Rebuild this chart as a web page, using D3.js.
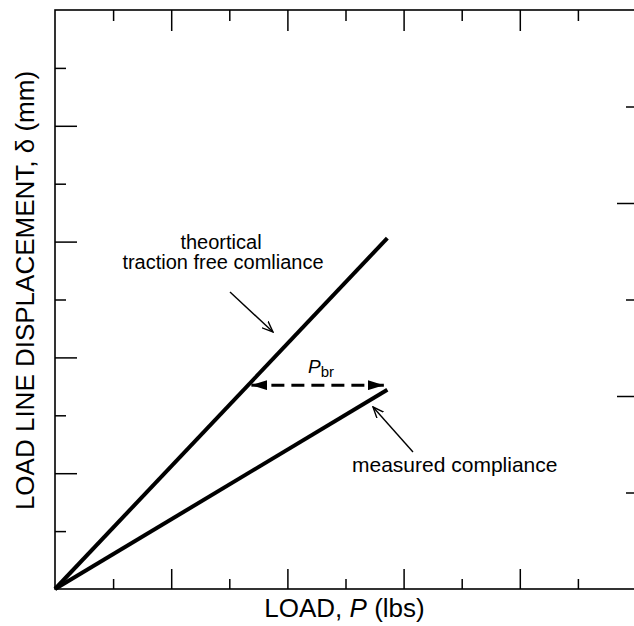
<!DOCTYPE html>
<html>
<head>
<meta charset="utf-8">
<script src="https://cdn.jsdelivr.net/npm/d3@7"></script>
<style>
  body { margin: 0; background: #fff; }
  svg { display: block; }
  text { font-family: "Liberation Sans", Arial, sans-serif; fill: #000; }
</style>
</head>
<body>
<div id="chart"></div>
<script>
// chart values
var loadX = [0, 5.72];
var theoryY = [0, 6.06];
var measuredY = [0, 3.44];
var pbrY = 3.52;
var pbrFrom = 3.38;
var pbrTo = 5.66;
var xMajor = [2, 4, 6, 8];
var xMinor = [1, 3, 5, 7, 9];
var yMajor = [2, 4, 6, 8];
var yMinor = [1, 3, 5, 7, 9];
var rMajor = [2, 4];
var rMinor = [1, 3, 5];

var svgWidth = 634;
var svgHeight = 626;
// right frame edge sits just past the window edge
var margin = { top: 10, right: -2, bottom: 37, left: 55 };
var width = svgWidth - margin.left - margin.right;
var height = svgHeight - margin.top - margin.bottom;

var svg = d3.select("#chart")
  .append("svg")
  .attr("width", svgWidth)
  .attr("height", svgHeight);

var defs = svg.append("defs");
defs.append("marker")
  .attr("id", "solid")
  .attr("viewBox", "0 0 16 10")
  .attr("refX", 16).attr("refY", 5)
  .attr("markerWidth", 16).attr("markerHeight", 10)
  .attr("markerUnits", "userSpaceOnUse")
  .attr("orient", "auto-start-reverse")
  .append("path").attr("d", "M0,0L16,5L0,10Z").attr("fill", "#000");
defs.append("marker")
  .attr("id", "open")
  .attr("viewBox", "0 0 12 10")
  .attr("refX", 11).attr("refY", 5)
  .attr("markerWidth", 12).attr("markerHeight", 10)
  .attr("markerUnits", "userSpaceOnUse")
  .attr("orient", "auto")
  .append("path").attr("d", "M0,0.5L11,5L0,9.5")
  .attr("fill", "none").attr("stroke", "#000").attr("stroke-width", 1.4);

var chartGroup = svg.append("g")
  .attr("transform", `translate(${margin.left}, ${margin.top})`);

var x = d3.scaleLinear().domain([0, 10]).range([0, width]);
var y = d3.scaleLinear().domain([0, 10]).range([height, 0]);
var yRight = d3.scaleLinear().domain([0, 6]).range([height, 0]);

// frame + ticks (inward)
function addAxis(axis, transform) {
  var g = chartGroup.append("g")
    .attr("transform", transform)
    .call(axis.tickFormat(""));
  g.select(".domain").remove();
  g.selectAll("line").attr("stroke", "#000").attr("stroke-width", 1.5);
}
addAxis(d3.axisBottom(x).tickValues(xMinor).tickSizeInner(-10).tickSizeOuter(0), `translate(0,${height})`);
addAxis(d3.axisBottom(x).tickValues(xMajor).tickSizeInner(-20).tickSizeOuter(0), `translate(0,${height})`);
addAxis(d3.axisTop(x).tickValues(xMinor).tickSizeInner(-11).tickSizeOuter(0), "translate(0,0)");
addAxis(d3.axisTop(x).tickValues(xMajor).tickSizeInner(-21).tickSizeOuter(0), "translate(0,0)");
addAxis(d3.axisLeft(y).tickValues(yMinor).tickSizeInner(-11).tickSizeOuter(0), "translate(0,0)");
addAxis(d3.axisLeft(y).tickValues(yMajor).tickSizeInner(-22).tickSizeOuter(0), "translate(0,0)");
addAxis(d3.axisRight(yRight).tickValues(rMinor).tickSizeInner(-10).tickSizeOuter(0), `translate(${width},0)`);
addAxis(d3.axisRight(yRight).tickValues(rMajor).tickSizeInner(-19).tickSizeOuter(0), `translate(${width},0)`);

chartGroup.append("rect")
  .attr("x", 0).attr("y", 0)
  .attr("width", width).attr("height", height)
  .attr("fill", "none")
  .attr("stroke", "#000")
  .attr("stroke-width", 1.6);

// lines
var line = d3.line().x(d => x(d[0])).y(d => y(d[1]));
[theoryY, measuredY].forEach(function(series) {
  chartGroup.append("path")
    .datum(loadX.map((v, i) => [v, series[i]]))
    .attr("d", line)
    .attr("fill", "none")
    .attr("stroke", "#000")
    .attr("stroke-width", 4)
    .attr("stroke-linecap", "butt");
});

// P_br dashed double arrow
chartGroup.append("line")
  .attr("x1", x(pbrFrom)).attr("x2", x(pbrTo))
  .attr("y1", y(pbrY)).attr("y2", y(pbrY))
  .attr("stroke", "#000")
  .attr("stroke-width", 3)
  .attr("stroke-dasharray", "13,7")
  .attr("marker-start", "url(#solid)")
  .attr("marker-end", "url(#solid)");

var pbr = chartGroup.append("text")
  .attr("x", 253).attr("y", 363)
  .style("font-size", "19px");
pbr.append("tspan").style("font-style", "italic").text("P");
pbr.append("tspan").attr("dy", 4).style("font-size", "15px").text("br");

// annotations
chartGroup.append("text")
  .attr("text-anchor", "middle")
  .attr("x", 166).attr("y", 239)
  .style("font-size", "20px")
  .text("theortical");
chartGroup.append("text")
  .attr("text-anchor", "middle")
  .attr("x", 168).attr("y", 259)
  .style("font-size", "20px")
  .text("traction free comliance");

chartGroup.append("line")
  .attr("x1", 175).attr("y1", 282)
  .attr("x2", 218).attr("y2", 322)
  .attr("stroke", "#000").attr("stroke-width", 1.4)
  .attr("marker-end", "url(#open)");

chartGroup.append("text")
  .attr("x", 297).attr("y", 462)
  .style("font-size", "21px")
  .text("measured compliance");

chartGroup.append("line")
  .attr("x1", 358).attr("y1", 442)
  .attr("x2", 318).attr("y2", 397)
  .attr("stroke", "#000").attr("stroke-width", 1.4)
  .attr("marker-end", "url(#open)");

// axis titles
var xt = chartGroup.append("text")
  .attr("x", (width - 2) / 2).attr("y", height + 28)
  .attr("text-anchor", "middle")
  .style("font-size", "26px");
xt.append("tspan").text("LOAD, ");
xt.append("tspan").style("font-style", "italic").text("P");
xt.append("tspan").text(" (lbs)");

chartGroup.append("text")
  .attr("transform", `translate(${-21}, ${height / 2 - 9}) rotate(-90)`)
  .attr("text-anchor", "middle")
  .style("font-size", "26px")
  .text("LOAD LINE DISPLACEMENT, δ (mm)");
</script>
</body>
</html>
